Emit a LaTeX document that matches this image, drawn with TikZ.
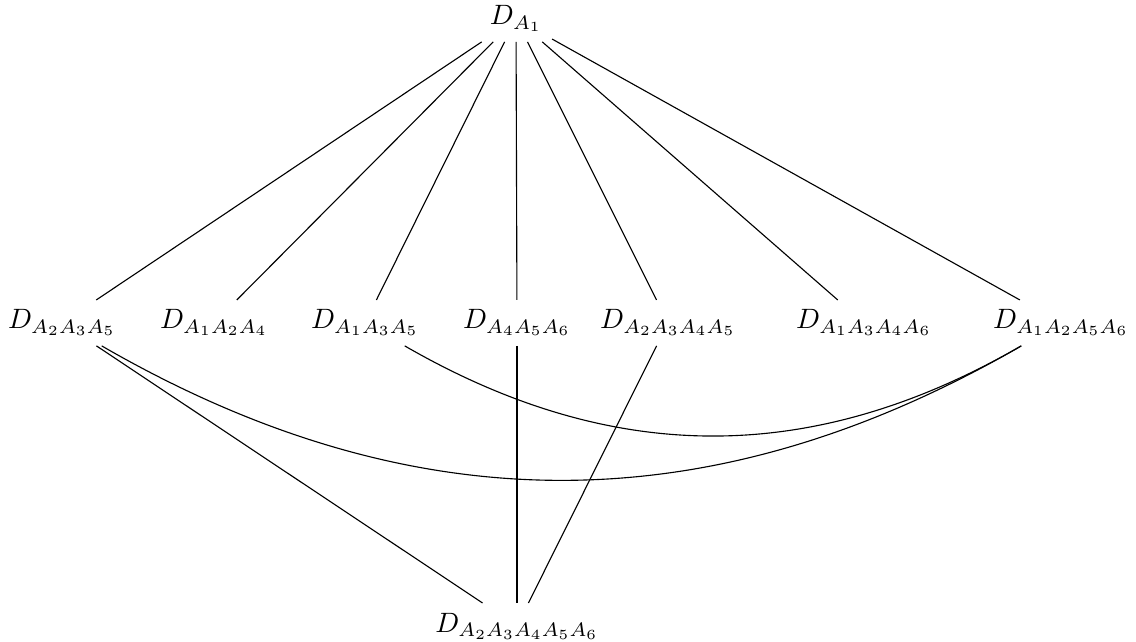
\documentclass[tikz,border=0pt]{standalone}
\begin{document}
\begin{tikzpicture}[x=0.3571pt,y=0.3571pt,
  lbl/.style={anchor=base},
  edge/.style={line width=0.4pt}]
\useasboundingbox (0,0) rectangle (1136,-642);
\node[lbl] (t) at (516,-25) {$D_{A_1}$};
\node[lbl] (m1) at (62,-329) {$D_{A_2A_3A_5}$};
\node[lbl] (m2) at (214,-329) {$D_{A_1A_2A_4}$};
\node[lbl] (m3) at (365,-329) {$D_{A_1A_3A_5}$};
\node[lbl] (m4) at (517,-329) {$D_{A_4A_5A_6}$};
\node[lbl] (m5) at (668,-329) {$D_{A_2A_3A_4A_5}$};
\node[lbl] (m6) at (864,-329) {$D_{A_1A_3A_4A_6}$};
\node[lbl] (m7) at (1061,-329) {$D_{A_1A_2A_5A_6}$};
\node[lbl] (b) at (517,-632) {$D_{A_2A_3A_4A_5A_6}$};
\foreach \n in {m1,m2,m3,m4,m5,m6,m7} \draw[edge] (t) -- (\n);
\draw[edge] (m1) -- (b);
\draw[edge] (m4) -- (b);
\draw[edge] (m5) -- (b);
\draw[edge] (m1) to[bend right=30] (m7);
\draw[edge] (m3) to[bend right=30] (m7);
\end{tikzpicture}
\end{document}
